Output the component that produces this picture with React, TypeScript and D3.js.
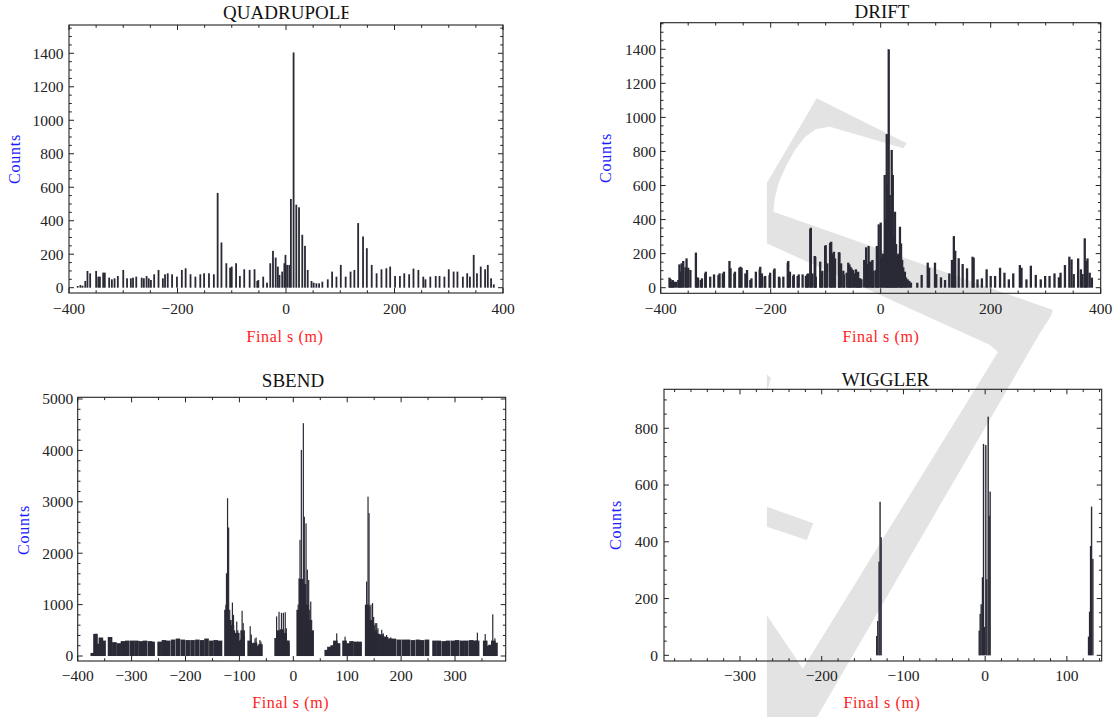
import React from 'react';
import * as d3 from 'd3';

// ---------- DATA (s in m, counts) ----------
const quadrupoleBins: [number, number][] = [
  [-384,10],[-379,16],[-375,12],[-370,40],[-366,100],[-361,86],[-350,100],[-346,66],[-343,66],[-337,90],[-334,90],
  [-326,60],[-321,50],[-316,56],[-310,70],[-300,106],[-293,56],[-286,56],[-282,60],[-276,66],[-266,60],[-262,56],
  [-257,70],[-253,56],[-249,46],[-243,80],[-235,106],[-227,56],[-223,80],[-218,86],[-210,80],[-201,66],[-192,106],
  [-185,116],[-176,80],[-167,66],[-158,80],[-151,86],[-142,86],[-133,80],[-126,566],[-119,270],[-110,146],[-103,120],
  [-100,126],[-92,146],[-85,70],[-77,110],[-67,106],[-58,110],[-53,40],[-51,46],[-42,66],[-35,30],[-29,146],[-24,220],
  [-19,180],[-15,126],[-12,76],[-7,96],[-3,146],[-1,196],[2,136],[6,136],[9,530],[14,1405],[19,496],[24,480],[30,316],
  [35,250],[40,106],[47,40],[51,30],[56,26],[61,26],[67,36],[77,50],[85,96],[93,66],[101,136],[110,66],[119,96],
  [126,106],[133,386],[142,306],[149,236],[158,136],[167,86],[176,110],[185,116],[192,126],[201,70],[210,70],[218,86],
  [227,80],[235,114],[244,106],[253,66],[257,50],[266,66],[276,70],[283,70],[292,66],[300,110],[309,96],[316,96],
  [326,66],[334,86],[339,66],[346,196],[352,86],[359,126],[367,110],[372,136],[378,56],[383,20]
];

const driftBins: [number, number][] = [
  [-384,59],[-382,50],[-380,35],[-378,45],[-376,35],[-372,35],[-368,45],[-366,137],[-364,94],[-362,143],[-359,157],
  [-355,120],[-353,172],[-350,117],[-346,104],[-336,206],[-334,60],[-332,59],[-327,45],[-325,55],[-319,84],[-318,94],
  [-310,65],[-303,78],[-295,74],[-293,84],[-287,84],[-285,94],[-275,157],[-273,114],[-266,84],[-265,94],[-257,117],
  [-255,123],[-253,117],[-246,84],[-243,104],[-237,45],[-235,55],[-227,94],[-220,108],[-219,123],[-216,84],[-211,65],
  [-210,69],[-202,74],[-201,88],[-194,104],[-193,113],[-185,65],[-184,59],[-177,65],[-169,147],[-168,157],[-165,94],
  [-159,69],[-158,78],[-151,69],[-149,78],[-142,78],[-136,69],[-134,78],[-132,84],[-128,345],[-127,352],[-124,84],
  [-120,186],[-119,182],[-118,65],[-110,153],[-108,90],[-106,100],[-101,245],[-100,250],[-97,143],[-92,264],[-90,270],
  [-88,202],[-85,211],[-83,172],[-76,208],[-75,207],[-72,143],[-68,100],[-67,78],[-62,88],[-59,147],[-57,137],
  [-55,123],[-53,114],[-50,104],[-48,84],[-45,108],[-43,70],[-41,94],[-39,55],[-37,55],[-35,49],[-30,163],[-26.5,237],
  [-24,140],[-22,245],[-19,153],[-16,155],[-15,163],[-13,98],[-9,104],[-7,245],[-5,120],[-3.6,372],[0,382],[1.5,173],
  [4,200],[7.3,662],[9,400],[11,902],[13,600],[14.6,1400],[16.5,544],[18,450],[20,809],[22,662],[24,300],[26,446],
  [28,256],[30,186],[32,200],[35,358],[37,260],[39,163],[41,120],[44,94],[46,60],[49,49],[52,40],[55,30],[66.5,29],
  [74.5,75],[85.5,147],[88,117],[98.7,147],[101,80],[109.6,61],[117,45],[124.7,84],[129.6,163],[133,303],[135.5,217],
  [141.8,173],[149,139],[157,114],[167,182],[169,176],[176,49],[184,55],[192.6,108],[200,69],[208,69],[217,117],
  [225,88],[233,49],[241,84],[253,133],[256,117],[265,49],[273,129],[282,75],[291,49],[299,69],[307,69],[316,84],
  [324,61],[327,88],[335,133],[343,182],[347,166],[351,80],[359,172],[364,108],[367,80],[371,290],[373,157],[376,172],
  [380,88],[384,59]
];

// SBEND: wide comb cells and thin spikes
const sbendCells: [number, number][] = [
  [-372,60],[-367,430],[-362,240],[-357,360],[-352,300],
  [-340,370],[-332,270],[-324,250],[-316,290],[-308,300],[-299,300],[-291,300],[-283,290],[-275,300],[-266,290],[-261,280],
  [-248,280],[-240,310],[-232,300],[-223,320],[-214,340],[-205,320],[-196,310],[-187,310],[-178,320],[-169,310],
  [-161,340],[-152,300],[-144,310],[-136,300],
  [-124,900],[-119,700],[-114,600],[-109,400],[-104,450],[-99,300],[-94,500],
  [-81,300],[-76,250],[-71,260],[-66,200],[-61,230],
  [-31,350],[-26,500],[-21,520],[-16,450],[-11,300],
  [10,900],[15,1500],[20,1400],[25,1000],[30,700],[34,500],
  [62,120],[67,180],[73,210],[78,300],[83,250],
  [95,300],[101,250],[108,290],[116,280],[123,280],
  [137,1000],[142,700],[147,600],[152,500],[157,430],[162,420],[167,380],[172,370],[177,340],[182,340],[187,330],
  [196,320],[205,320],[213,320],[222,310],[231,320],[239,310],[248,320],
  [262,300],[270,300],[279,290],[287,300],[296,300],[304,310],[313,300],[321,300],[330,310],[337,300],[341,300],
  [356,300],[361,200],[366,220],[371,300],[375,260]
];
const sbendSpikes: [number, number][] = [
  [-366,436],
  [-125,1000],[-124,1610],[-122,3070],[-120,2500],[-118,900],[-116,700],[-113,1040],[-111,800],[-109,500],[-107,400],
  [-105,670],[-103,500],[-101,300],[-98,320],[-95,880],[-93,640],[-91,380],
  [-80,580],[-78,420],[-71,340],[-69,360],[-62,310],[-60,280],
  [-31,770],[-26.5,860],[-22,840],[-18.5,840],[-15,850],[-13,540],[-10,300],[-8,250],
  [9,1000],[10.6,1510],[12.4,2260],[14.9,4010],[18.6,4530],[20.4,2710],[23.6,2580],[26,1680],[28.5,1480],[30.5,900],
  [32.3,1060],[34,700],
  [80.5,440],[96,376],
  [135,800],[136,1450],[138.6,3100],[140.5,2780],[142,960],[144,1000],[147,1030],[149,760],[152,640],[154.7,640],
  [157,540],[164,510],[167,440],[173,410],[180.7,363],[188.7,344],
  [341.5,454],[356,428],[365,214],[370,811],[374,344]
];

const wigglerBins: [number, number][] = [
  [-132.7,68],[-131.4,121],[-129.8,330],[-128.6,541],[-127.3,416],
  [-7.3,87],[-6.1,146],[-4.9,180],[-3.3,275],[-2,745],[-0.8,100],[0.8,741],[2,268],[3.7,841],[4.9,492],[6.1,577],
  [126.5,66],[127.8,154],[129,385],[130.2,524],[131.8,340]
];

const titles = ['QUADRUPOLE', 'DRIFT', 'SBEND', 'WIGGLER'];
const xTicksWide = [-400, -200, 0, 200, 400];
const yTicksQuad = [0, 200, 400, 600, 800, 1000, 1200, 1400];
const xTicksSbend = [-400, -300, -200, -100, 0, 100, 200, 300];
const yTicksSbend = [0, 1000, 2000, 3000, 4000, 5000];
const xTicksWiggler = [-300, -200, -100, 0, 100];
const yTicksWiggler = [0, 200, 400, 600, 800];

const FONT = '"Liberation Serif", "Times New Roman", serif';
const BAR = '#2a2a36';

type Layer = { data: [number, number][]; w: number; fill: string };
type Cfg = {
  title: string; layers: Layer[];
  left: number; right: number; top: number; bottom: number;
  xDomain: [number, number]; yDomain: [number, number];
  xTicks: number[]; yTicks: number[]; xMinor: number; yMinor: number;
  titleX: number; titleY: number; titleClip?: number;
  countsX: number; countsY: number; finalX: number; finalY: number;
  yLabelX: number; xLabelY: number; id: string;
};

const fmt = (v: number) => (v < 0 ? '\u2212' + Math.abs(v) : String(v));

function Panel({ c }: { c: Cfg }) {
  const x = d3.scaleLinear().domain(c.xDomain).range([c.left, c.right]);
  const y = d3.scaleLinear().domain(c.yDomain).range([c.bottom, c.top]);
  const xMin = d3.range(Math.ceil(c.xDomain[0] / c.xMinor) * c.xMinor, c.xDomain[1] + 0.001, c.xMinor);
  const yMin = d3.range(0, c.yDomain[1] + 0.001, c.yMinor);
  const isMajorX = (v: number) => c.xTicks.includes(v);
  const isMajorY = (v: number) => c.yTicks.includes(v);
  const ML = 5, mL = 2.8;
  return (
    <g>
      {c.layers.map((L, li) => (
        <g key={li} fill={L.fill}>
          {L.data.map(([s, n], i) => (
            <rect key={i} x={x(s) - L.w / 2} y={y(n)} width={L.w} height={Math.max(0, y(0) - y(n))} />
          ))}
        </g>
      ))}
      <g stroke="#222" strokeWidth={1}>
        {xMin.map((v, i) => {
          const len = isMajorX(v) ? ML : mL;
          const px = x(v);
          return (
            <g key={'x' + i}>
              <line x1={px} x2={px} y1={c.bottom} y2={c.bottom - len} />
              <line x1={px} x2={px} y1={c.top} y2={c.top + len} />
            </g>
          );
        })}
        {yMin.map((v, i) => {
          const len = isMajorY(v) ? ML : mL;
          const py = y(v);
          return (
            <g key={'y' + i}>
              <line x1={c.left} x2={c.left + len} y1={py} y2={py} />
              <line x1={c.right} x2={c.right - len} y1={py} y2={py} />
            </g>
          );
        })}
      </g>
      <rect x={c.left} y={c.top} width={c.right - c.left} height={c.bottom - c.top} fill="none" stroke="#222" strokeWidth={1.1} />
      <g fontFamily={FONT} fontSize={15.5} fill="#222">
        {c.yTicks.map((v) => (
          <text key={'yl' + v} x={c.yLabelX} y={y(v) + 5.3} textAnchor="end">{fmt(v)}</text>
        ))}
        {c.xTicks.map((v) => (
          <text key={'xl' + v} x={x(v)} y={c.xLabelY} textAnchor="middle">{fmt(v)}</text>
        ))}
      </g>
      {c.titleClip !== undefined && (
        <clipPath id={'tc' + c.id}>
          <rect x={0} y={0} width={c.titleClip} height={717} />
        </clipPath>
      )}
      <text x={c.titleX} y={c.titleY} textAnchor="middle" fontFamily={FONT} fontSize={19} fill="#111"
        clipPath={c.titleClip !== undefined ? `url(#tc${c.id})` : undefined}>{c.title}</text>
      <text transform={`translate(${c.countsX},${c.countsY}) rotate(-90)`} textAnchor="middle" fontFamily={FONT}
        fontSize={16} fill="#1a1aff" style={{ letterSpacing: '0.8px' }} dy="0.35em">Counts</text>
      <text x={c.finalX} y={c.finalY} textAnchor="middle" fontFamily={FONT} fontSize={16} fill="#ff1a1a"
        style={{ letterSpacing: '0.6px' }}>Final s (m)</text>
    </g>
  );
}

const panels: Cfg[] = [
  {
    id: 'q', title: titles[0], layers: [{ data: quadrupoleBins, w: 1.8, fill: BAR }],
    left: 69, right: 503, top: 25, bottom: 293, xDomain: [-400, 400], yDomain: [-31.7, 1569],
    xTicks: xTicksWide, yTicks: yTicksQuad, xMinor: 50, yMinor: 50,
    titleX: 287.5, titleY: 18.5, titleClip: 348.5, countsX: 14, countsY: 159, finalX: 285, finalY: 341.5,
    yLabelX: 63.5, xLabelY: 313.5,
  },
  {
    id: 'd', title: titles[1], layers: [{ data: driftBins, w: 2.3, fill: BAR }],
    left: 660.7, right: 1100.7, top: 22.7, bottom: 293.3, xDomain: [-400, 400], yDomain: [-32.9, 1556],
    xTicks: xTicksWide, yTicks: yTicksQuad, xMinor: 50, yMinor: 50,
    titleX: 882, titleY: 18.3, countsX: 605.5, countsY: 158, finalX: 881, finalY: 341.5,
    yLabelX: 656, xLabelY: 313.5,
  },
  {
    id: 's', title: titles[2],
    layers: [{ data: sbendCells, w: 4.6, fill: BAR }, { data: sbendSpikes, w: 1.2, fill: BAR }],
    left: 77.7, right: 505.7, top: 397.3, bottom: 661, xDomain: [-400, 394], yDomain: [-97, 5033],
    xTicks: xTicksSbend, yTicks: yTicksSbend, xMinor: 50, yMinor: 200,
    titleX: 293, titleY: 386.7, countsX: 23.3, countsY: 530, finalX: 290.7, finalY: 708.3,
    yLabelX: 73.3, xLabelY: 680.5,
  },
  {
    id: 'w', title: titles[3], layers: [{ data: wigglerBins, w: 1.4, fill: BAR }],
    left: 664, right: 1101.7, top: 389.3, bottom: 661, xDomain: [-393, 142.6], yDomain: [-20, 937.4],
    xTicks: xTicksWiggler, yTicks: yTicksWiggler, xMinor: 20, yMinor: 50,
    titleX: 885.5, titleY: 386, countsX: 615.4, countsY: 525, finalX: 882, finalY: 708.3,
    yLabelX: 658, xLabelY: 680.5,
  },
];

function Watermark() {
  const shapes: [number, number][][] = [
    [[906.7,143.3],[816.7,98.3],[766.7,183.3],[766.7,243.3],[990,345],[998,352],[773,717],[817,717],[1040,333],
     [1051,316],[1053,310],[773.3,211.7],[775,197],[779,182],[786,166],[795,150],[805,137],[816,129],[830,126.7],[903.3,148.3]],
    [[766.7,506.7],[813.3,523.3],[806.7,540],[766.7,526.7]],
    [[766.7,615],[824,700],[812,717],[766.7,717]],
    [[766.7,374],[771,378],[766.7,392]],
  ];
  const line = d3.line();
  return (
    <g clipPath="url(#wmclip)" fill="#e3e3e3">
      <clipPath id="wmclip"><rect x={766.7} y={0} width={400} height={717} /></clipPath>
      {shapes.map((p, i) => <path key={i} d={(line(p) || '') + 'Z'} />)}
    </g>
  );
}

export default function App() {
  return (
    <svg width={1115} height={717} style={{ position: 'absolute', left: 0, top: 0, background: '#fff' }}>
      <rect width={1115} height={717} fill="#fff" />
      <Watermark />
      {panels.map((c) => <Panel key={c.id} c={c} />)}
    </svg>
  );
}
